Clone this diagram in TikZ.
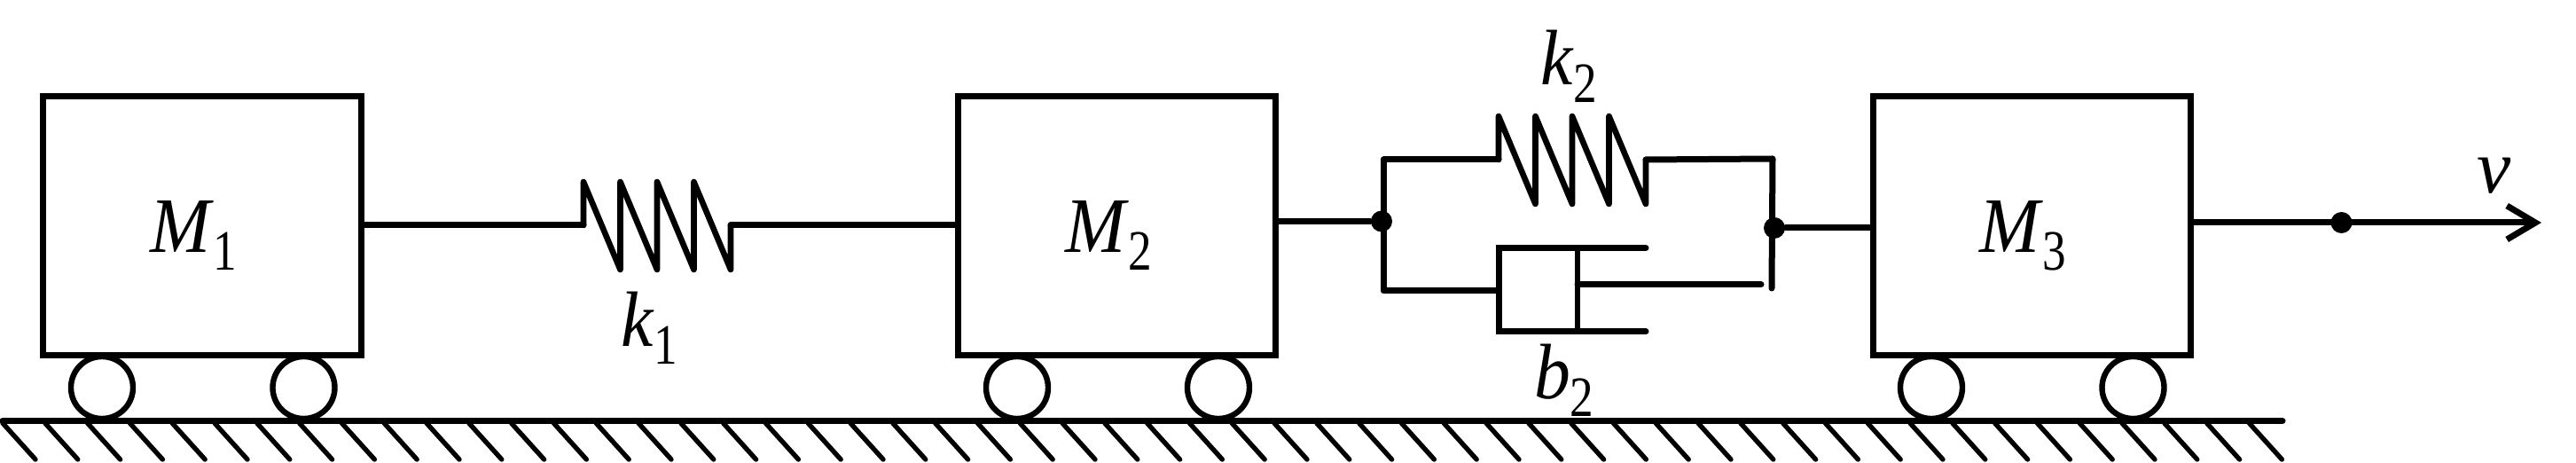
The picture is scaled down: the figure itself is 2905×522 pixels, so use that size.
\documentclass[tikz,border=0pt]{standalone}
\usepackage{fontspec}
\usepackage{graphicx}
\setmainfont{Liberation Serif}
\usetikzlibrary{arrows.meta}
\newcommand{\symb}[2]{{\fontsize{21.5pt}{24pt}\selectfont\scalebox{0.95}[1.03]{\textit{#1}}\raisebox{-5pt}{\fontsize{14pt}{16pt}\selectfont\scalebox{0.95}[1.15]{#2}}}}
\tikzset{
  mass/.style={draw,line width=1.75pt,minimum width=89.6pt,minimum height=73.1pt,inner sep=0pt},
  wheel/.style={draw,circle,line width=1.6pt,minimum size=17.5pt,inner sep=0pt},
  wire/.style={line width=1.75pt,line join=round,line cap=round},
  coil/.style={line width=1.65pt,line join=round,line cap=round},
  hatch/.style={line width=1.35pt,line cap=round},
  junction/.style={circle,fill=black,minimum size=6pt,inner sep=0pt},
  lab/.style={anchor=base west,inner sep=0pt,outer sep=0pt}
}
\begin{document}
\begin{tikzpicture}[x=0.25pt,y=-0.25pt]
\useasboundingbox (0,0) rectangle (2905,522);
% ground
\coordinate (g0) at (3,474.5);
\coordinate (g1) at (2574,474.5);
\foreach \i in {0,...,53}{
  \pgfmathsetmacro{\hx}{3+47.8*\i}
  \draw[hatch] (\hx,477) -- ++(37,41);
}
\draw[wire] (g0) -- (g1);
% wheels
\foreach \n/\x in {a/115,b/342.5,c/1147,d/1374,e/2178,f/2405.5}{
  \node[wheel] (w\n) at (\x,437) {};
}
% masses
\node[mass] (M1) at (228,254.5) {};
\node[mass] (M2) at (1259.7,254.5) {};
\node[mass] (M3) at (2291.5,254.5) {};
\node[lab] (lM1) at (169,285) {\symb{M}{1}};
\node[lab] (lM2) at (1201,285) {\symb{M}{2}};
\node[lab] (lM3) at (2232,285) {\symb{M}{3}};
% spring k1
\coordinate (s1a) at (658,254);
\coordinate (s1b) at (824,254);
\draw[wire] (M1.east |- s1a) -- (s1a);
\draw[wire] (s1b) -- (M2.west |- s1b);
\draw[coil] (s1a) -- ++(0,-49) -- ++(41.5,99) -- ++(0,-99) -- ++(41.5,99) -- ++(0,-99) -- ++(41.5,99) -- ++(0,-99) -- ++(41.5,99) -- (s1b);
\node[lab] (lk1) at (700,390.7) {\symb{k}{1}};
% parallel branch
\node[junction] (j1) at (1558,249.5) {};
\node[junction] (j2) at (2001,257) {};
\coordinate (s2a) at (1690,180);
\coordinate (s2b) at (1856,180);
\coordinate (tl) at (1560,180);
\coordinate (bl) at (1560,328);
\coordinate (tr) at (1999,179);
\coordinate (br) at (1998,325);
\coordinate (dl) at (1690,328);
\draw[wire] (M2.east |- j1) -- (j1);
\draw[wire] (dl) -- (bl) -- (tl) -- (s2a);
\draw[coil] (s2a) -- ++(0,-49) -- ++(41.5,99) -- ++(0,-99) -- ++(41.5,99) -- ++(0,-99) -- ++(41.5,99) -- ++(0,-99) -- ++(41.5,99) -- (s2b);
\draw[wire] (s2b) -- (tr) -- (br);
\draw[wire] (j2) -- (M3.west |- j2);
\node[lab] (lk2) at (1737,96) {\symb{k}{2}};
% damper
\coordinate (da) at (1856,279.5);
\coordinate (db) at (1690,279.5);
\coordinate (dc) at (1690,374);
\coordinate (dd) at (1856,374);
\coordinate (pa) at (1779,279.5);
\coordinate (pb) at (1779,374);
\coordinate (rod) at (1986,321);
\draw[wire,line join=miter] (da) -- (db) -- (dc) -- (dd);
\draw[line width=1.6pt] (pa) -- (pb);
\draw[wire] (pa |- rod) -- (rod);
\node[lab] (lb2) at (1730,450) {\symb{b}{2}};
% output
\node[junction] (j3) at (2640.5,251) {};
\coordinate (tip) at (2866,251);
\draw[wire,-{Straight Barb[length=8pt,width=9.5pt,line width=1.75pt]}] (M3.east |- tip) -- (tip);
\node[lab] (lv) at (2793,218) {\fontsize{21.5pt}{24pt}\selectfont\textit{v}};
\end{tikzpicture}
\end{document}
